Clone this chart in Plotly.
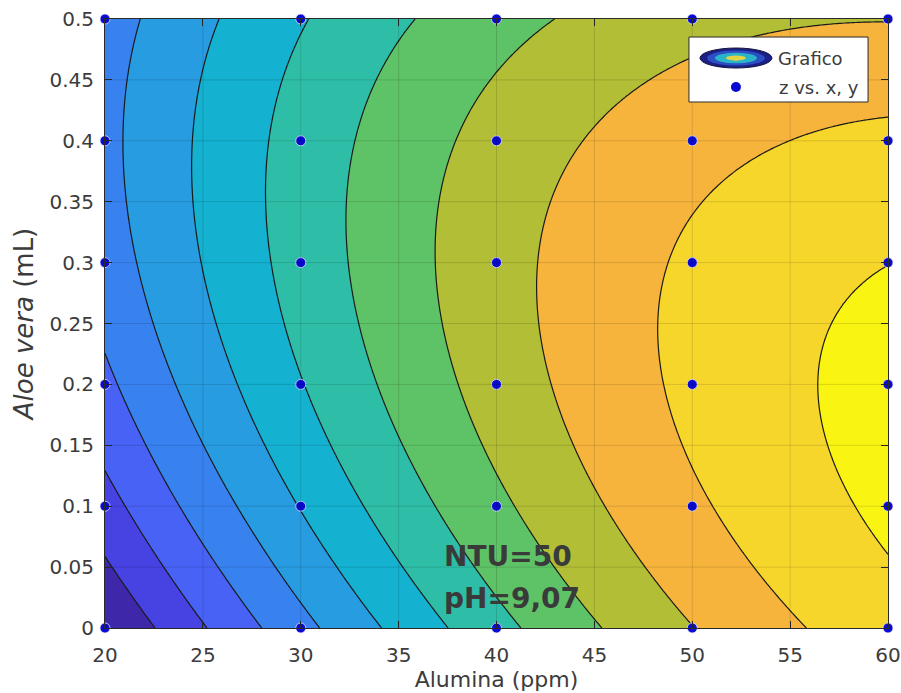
import numpy as np
import plotly.graph_objects as go

# Experimental grid: alumina dose (ppm) and aloe vera volume (mL)
alumina = [20, 30, 40, 50, 60]
aloe = [0.0, 0.1, 0.2, 0.3, 0.4, 0.5]
# Response z at each grid point; one row per aloe value, columns follow alumina
z_rows = [
    [-0.10, 3.67, 6.73, 9.00, 10.55],
    [1.65, 5.03, 7.87, 9.85, 11.15],
    [2.76, 5.96, 8.50, 10.19, 11.25],
    [3.57, 6.36, 8.58, 10.20, 11.00],
    [3.65, 6.35, 8.33, 9.55, 10.25],
    [3.56, 5.99, 7.62, 8.48, 9.10],
]

# Contour levels of the fitted surface and the fill colour of each band
level_start, level_end, level_step = 1, 11, 1
band_colors = [
    "#3e27a8", "#4742e2", "#4862f5", "#3882f0", "#289ce1", "#14b1d0",
    "#2ebea8", "#5ec366", "#b2be35", "#f7b43c", "#f7d62c", "#f9f412",
]

x_ticks = [20, 25, 30, 35, 40, 45, 50, 55, 60]
y_ticks = [0, 0.05, 0.1, 0.15, 0.2, 0.25, 0.3, 0.35, 0.4, 0.45, 0.5]
y_tick_text = ["0", "0.05", "0.1", "0.15", "0.2", "0.25", "0.3", "0.35", "0.4", "0.45", "0.5"]

legend_labels = ["Grafico", "z vs. x, y"]

# ---- quadratic surface fit (poly22) of z vs. x, y ----
X, Y = np.meshgrid(np.array(alumina, float), np.array(aloe, float))
Z = np.array(z_rows, float)
xf, yf, zf = X.ravel(), Y.ravel(), Z.ravel()


def design(x, y):
    return np.column_stack([np.ones_like(x), x, y, x * x, x * y, y * y])


coef, *_ = np.linalg.lstsq(design(xf, yf), zf, rcond=None)

xs = np.linspace(min(alumina), max(alumina), 241)
ys = np.linspace(min(aloe), max(aloe), 241)
GX, GY = np.meshgrid(xs, ys)
GZ = (design(GX.ravel(), GY.ravel()) @ coef).reshape(GX.shape)

# step colour scale: one flat colour per band
n_levels = int(round((level_end - level_start) / level_step)) + 1
colorscale = []
for k, c in enumerate(band_colors):
    lo = max(0.0, (k - 0.5) / n_levels)
    hi = min(1.0, (k + 0.5) / n_levels)
    colorscale.append([lo, c])
    colorscale.append([hi, c])

font_family = "DejaVu Sans, Liberation Sans, Arial, sans-serif"
ink = "#3c3c3c"
dot_color = "#0a0ad2"

fig = go.Figure()
fig.add_trace(go.Contour(
    x=xs, y=ys, z=GZ,
    name=legend_labels[0],
    showlegend=False,
    autocontour=False,
    contours=dict(start=level_start, end=level_end, size=level_step,
                  coloring="fill", showlines=True),
    colorscale=colorscale,
    showscale=False,
    line=dict(color="#1a1a1a", width=1.2),
    hoverinfo="skip",
))
fig.add_trace(go.Scatter(
    x=xf, y=yf, mode="markers",
    name=legend_labels[1],
    showlegend=False,
    marker=dict(color=dot_color, size=10,
                line=dict(color="rgba(235,240,255,0.75)", width=1)),
    cliponaxis=False,
))

# grid lines drawn over the filled contours
shapes = []
for t in x_ticks[1:-1]:
    shapes.append(dict(type="line", xref="x", yref="paper", x0=t, x1=t, y0=0, y1=1,
                       line=dict(color="rgba(0,0,0,0.13)", width=1), layer="above"))
for t in y_ticks[1:-1]:
    shapes.append(dict(type="line", xref="paper", yref="y", x0=0, x1=1, y0=t, y1=t,
                       line=dict(color="rgba(0,0,0,0.13)", width=1), layer="above"))

# ---- legend box (paper coordinates) ----
PW, PH = 783.0, 609.0   # plot area size in pixels


def px(dx):
    return dx / PW


def py(dy):
    return dy / PH


box_l, box_r, box_t, box_b = 0.7458, 0.9745, 0.9704, 0.8637
shapes.append(dict(type="rect", xref="paper", yref="paper",
                   x0=box_l, x1=box_r, y0=box_b, y1=box_t,
                   fillcolor="white", line=dict(color="#2a2a2a", width=1), layer="above"))
# contour-style icon: nested ellipses
icon_cx, icon_cy = box_l + px(47), box_t - py(21)
for rx, ry, col in [(36, 10, "#1c1f86"), (29, 7.5, "#2c4fc4"),
                    (21, 5.2, "#2ab4c8"), (10, 2.6, "#e3d447")]:
    shapes.append(dict(type="circle", xref="paper", yref="paper",
                       x0=icon_cx - px(rx), x1=icon_cx + px(rx),
                       y0=icon_cy - py(ry), y1=icon_cy + py(ry),
                       fillcolor=col, line=dict(color="#14143c", width=1 if rx == 36 else 0),
                       layer="above"))
dot_cy = box_t - py(50)
shapes.append(dict(type="circle", xref="paper", yref="paper",
                   x0=icon_cx - px(5), x1=icon_cx + px(5),
                   y0=dot_cy - py(5), y1=dot_cy + py(5),
                   fillcolor=dot_color, line=dict(width=0), layer="above"))

annotations = [
    dict(x=box_l + px(87), y=icon_cy, xref="paper", yref="paper", text=legend_labels[0],
         showarrow=False, xanchor="left", yanchor="middle",
         font=dict(family=font_family, size=18, color=ink)),
    dict(x=box_l + px(88), y=dot_cy, xref="paper", yref="paper", text=legend_labels[1],
         showarrow=False, xanchor="left", yanchor="middle",
         font=dict(family=font_family, size=18, color=ink)),
    dict(x=37.2, y=0.059, xref="x", yref="y", text="<b>NTU=50</b>", showarrow=False,
         xanchor="left", yanchor="middle",
         font=dict(family=font_family, size=28, color="#3a3a3a")),
    dict(x=37.2, y=0.024, xref="x", yref="y", text="<b>pH=9,07</b>", showarrow=False,
         xanchor="left", yanchor="middle",
         font=dict(family=font_family, size=28, color="#3a3a3a")),
]

axis_common = dict(
    showline=True, linecolor="#2a2a2a", linewidth=1, mirror="ticks",
    ticks="inside", ticklen=7, tickcolor="#2a2a2a",
    showgrid=False, zeroline=False, automargin=False,
    tickfont=dict(family=font_family, size=20, color=ink),
)

fig.update_layout(
    width=901, height=693,
    margin=dict(l=105, r=13, t=19, b=65),
    paper_bgcolor="white", plot_bgcolor="white",
    font=dict(family=font_family, color=ink),
    showlegend=False,
    xaxis=dict(range=[20, 60], tickvals=x_ticks, ticktext=[str(t) for t in x_ticks],
               ticklabelstandoff=9,
               title=dict(text="Alumina (ppm)", standoff=5,
                          font=dict(family=font_family, size=22, color=ink)),
               **axis_common),
    yaxis=dict(range=[0, 0.5], tickvals=y_ticks, ticktext=y_tick_text,
               ticklabelstandoff=6,
               title=dict(text="<i>Aloe vera</i> (mL)", standoff=8,
                          font=dict(family=font_family, size=26, color=ink)),
               **axis_common),
    shapes=shapes,
    annotations=annotations,
)

fig.write_html("out.html")
